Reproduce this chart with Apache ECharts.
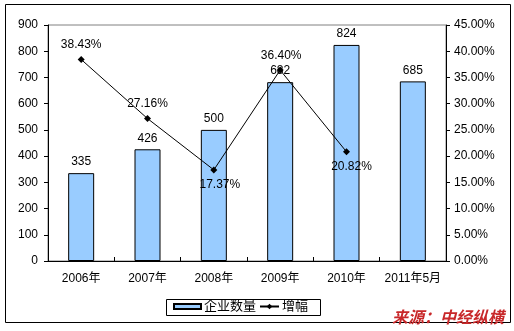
<!DOCTYPE html>
<html>
<head>
<meta charset="utf-8">
<script src="https://cdn.jsdelivr.net/npm/echarts@6/dist/echarts.min.js"></script>
<style>
  html, body { margin: 0; padding: 0; background: #fff; }
  #chart { width: 514px; height: 331px; }
</style>
</head>
<body>
<div id="chart"></div>
<script>
// Categories and series
var categories = ['2006年', '2007年', '2008年', '2009年', '2010年', '2011年5月'];
var companyCounts = [335, 426, 500, 682, 824, 685];
var growthRates = [38.43, 27.16, 17.37, 36.40, 20.82];
// Where each growth label sits relative to its point
var growthLabelPos = ['top', 'top', 'bottom', 'top', 'bottom'];
var growthLabelShift = [[0, 0], [0, 0], [6, 0], [1, 0], [5, 0]];

var FONT = '"Liberation Sans", Arial, "Noto Sans CJK SC", sans-serif';

var chart = echarts.init(document.getElementById('chart'), null, { renderer: 'canvas' });

var growthData = growthRates.map(function (v, i) {
  return {
    value: v,
    label: { position: growthLabelPos[i], offset: growthLabelShift[i] }
  };
});

chart.setOption({
  animation: false,
  backgroundColor: '#ffffff',
  grid: {
    left: 48, right: 68, top: 25, bottom: 70,
    show: true, borderColor: '#808080', borderWidth: 1
  },
  xAxis: {
    type: 'category',
    data: categories,
    axisLine: { lineStyle: { color: '#000', width: 1 } },
    axisTick: { show: true, inside: true, length: 4, interval: 0, lineStyle: { color: '#000' } },
    axisLabel: { color: '#000', fontSize: 12, fontFamily: FONT, margin: 12, interval: 0 },
    splitLine: { show: false }
  },
  yAxis: [
    {
      type: 'value', min: 0, max: 900, interval: 100,
      axisLine: { show: true, lineStyle: { color: '#000', width: 1 } },
      axisTick: { show: true, length: 4, lineStyle: { color: '#000' } },
      axisLabel: { color: '#000', fontSize: 12, fontFamily: FONT, margin: 10 },
      splitLine: { show: false }
    },
    {
      type: 'value', min: 0, max: 45, interval: 5,
      axisLine: { show: true, lineStyle: { color: '#000', width: 1 } },
      axisTick: { show: true, length: 4, lineStyle: { color: '#000' } },
      axisLabel: {
        color: '#000', fontSize: 12, fontFamily: FONT, margin: 8,
        formatter: function (v) { return v.toFixed(2) + '%'; }
      },
      splitLine: { show: false }
    }
  ],
  legend: [
    {
      data: [{ name: '企业数量', icon: 'rect' }],
      left: 173, top: 300,
      itemWidth: 27, itemHeight: 5, itemGap: 4,
      padding: 0,
      textStyle: { color: '#000', fontSize: 13, fontFamily: FONT, padding: [0, 0, 0, -2] },
      selectedMode: false
    },
    {
      data: ['增幅'],
      left: 259, top: 300,
      itemWidth: 19, itemHeight: 7,
      padding: 0,
      textStyle: { color: '#000', fontSize: 13, fontFamily: FONT, padding: [0, 0, 0, -2] },
      selectedMode: false
    }
  ],
  series: [
    {
      name: '企业数量',
      type: 'bar',
      data: companyCounts,
      barWidth: 26,
      itemStyle: { color: '#99CCFF', borderColor: '#000', borderWidth: 1 },
      label: { show: true, position: 'top', distance: 5, color: '#000', fontSize: 12, fontFamily: FONT },
      z: 2
    },
    {
      name: '增幅',
      type: 'line',
      yAxisIndex: 1,
      data: growthData,
      symbol: 'diamond',
      symbolSize: 7,
      lineStyle: { color: '#000', width: 1 },
      itemStyle: { color: '#000' },
      label: {
        show: true, distance: 5, color: '#000', fontSize: 12, fontFamily: FONT,
        formatter: function (p) { return p.value.toFixed(2) + '%'; }
      },
      z: 3
    }
  ],
  graphic: [
    {
      type: 'rect',
      shape: { x: 5.5, y: 4.5, width: 505, height: 318 },
      style: { fill: 'none', stroke: '#000', lineWidth: 1 },
      silent: true, z: 0
    },
    {
      type: 'rect',
      shape: { x: 166.5, y: 299.5, width: 154, height: 16 },
      style: { fill: 'none', stroke: '#000', lineWidth: 1 },
      silent: true, z: 10
    },
    {
      type: 'text',
      left: 392, top: 309,
      style: {
        text: '来源：中经纵横',
        fill: '#C8282A',
        font: 'italic bold 16px "Noto Sans CJK SC", sans-serif'
      },
      silent: true, z: 10
    }
  ]
});
</script>
</body>
</html>
